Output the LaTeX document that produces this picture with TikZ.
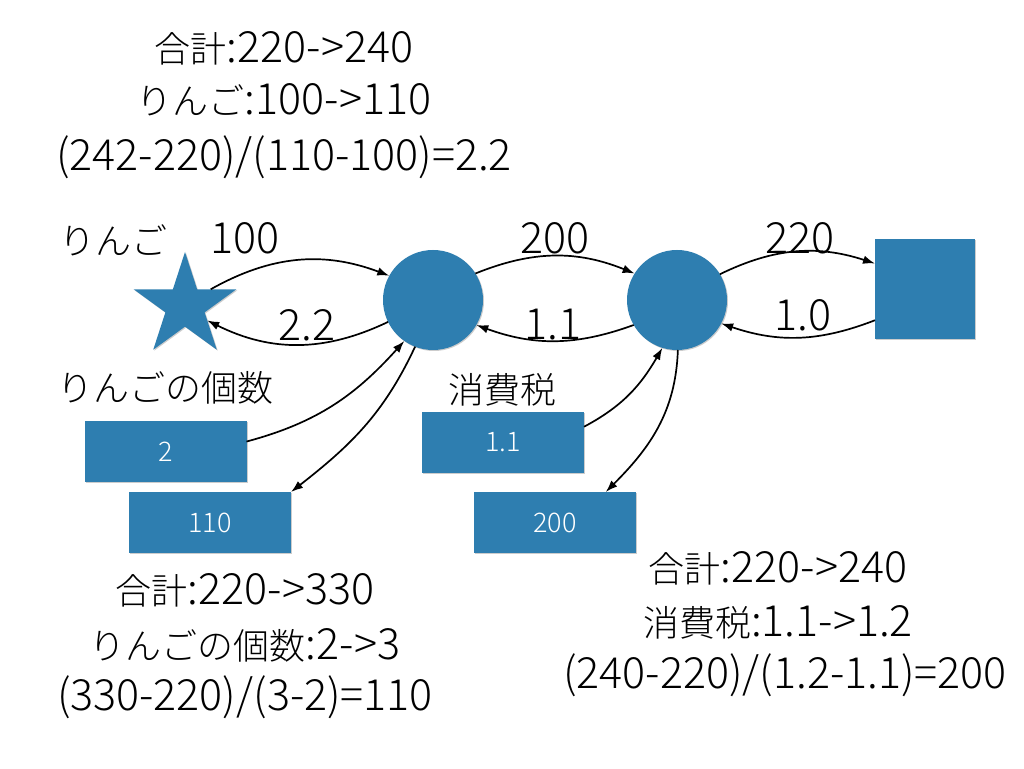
\documentclass[tikz,border=0pt]{standalone}
\usepackage{fontspec}
\setmainfont{Noto Sans CJK JP}[UprightFont=* Light]
\usetikzlibrary{shapes.geometric,arrows.meta,shadows}
\definecolor{nodeblue}{RGB}{46,126,176}
\newcommand{\jsz}[1]{{\fontsize{36}{40}\selectfont #1}}
\tikzset{
  x=1pt,y=1pt,
  shp/.style={fill=nodeblue,draw=none,inner sep=0pt,outer sep=0pt,
    drop shadow={shadow xshift=1pt,shadow yshift=-1pt,opacity=0.2,fill=black}},
  circ/.style={shp,circle,minimum size=100pt},
  valbox/.style={shp,rectangle,minimum width=162pt,minimum height=61pt,
    text=white,font=\fontsize{27}{30}\selectfont},
  lbl/.style={font=\fontsize{43}{48}\selectfont,inner sep=0pt},
  conn/.style={line width=1.7pt,-{Latex[length=12pt,width=8.5pt]}}
}
\begin{document}
\begin{tikzpicture}
\useasboundingbox[fill=white] (0,0) rectangle (1024,768);
% shapes
\node[shp,star,star points=5,star point ratio=2.618,minimum size=108pt] (st) at (185,462) {};
\node[circ] (c1) at (433,468) {};
\node[circ] (c2) at (677,468) {};
\node[shp,rectangle,minimum size=100pt] (sq) at (925,479) {};
\node[valbox] (b2) at (165.5,316.5) {2};
\node[valbox] (b110) at (210,245.5) {110};
\node[valbox] (b11) at (503,325.5) {1.1};
\node[valbox] (b200) at (555,245.5) {200};
% connectors
\draw[conn] (st.33) to[bend left=25] (c1.151);
\draw[conn] (c1.206) to[bend left=26] (st.-33);
\draw[conn] (c1.32) to[bend left=22] (c2.148);
\draw[conn] (c2.210) to[bend left=20] (c1.-30);
\draw[conn] (c2.31) to[bend left=22] (sq.153);
\draw[conn] (sq.212) to[bend left=20] (c2.-28);
\draw[conn] (b2.7) to[out=15,in=228] (c1.235);
\draw[conn] (c1.249) to[out=245,in=38] (b110.north east);
\draw[conn] (b11.11) to[out=28,in=240] (c2.253);
\draw[conn] (c2.271) to[out=268,in=45] (b200.31.4);
% labels
\node[lbl] (t1) at (284,720) {\jsz{合計}:220->240};
\node[lbl] (t2) at (284,668) {\jsz{りんご}:100->110};
\node[lbl] (t3) at (284,611) {(242-220)/(110-100)=2.2};
\node[lbl] (lapple) at (113,528) {\jsz{りんご}};
\node[lbl] (l100) at (245,530) {100};
\node[lbl] (l22) at (307,443) {2.2};
\node[lbl] (l200) at (555,530) {200};
\node[lbl] (l11) at (553,443) {1.1};
\node[lbl] (l220) at (800,530) {220};
\node[lbl] (l10) at (803,453) {1.0};
\node[lbl] (lcount) at (165,380) {\jsz{りんごの個数}};
\node[lbl] (ltax) at (502,378) {\jsz{消費税}};
\node[lbl] (u1) at (245,178) {\jsz{合計}:220->330};
\node[lbl] (u2) at (245,123) {\jsz{りんごの個数}:2->3};
\node[lbl] (u3) at (245,71) {(330-220)/(3-2)=110};
\node[lbl] (r1) at (778,200) {\jsz{合計}:220->240};
\node[lbl] (r2) at (778,146) {\jsz{消費税}:1.1->1.2};
\node[lbl] (r3) at (785,93) {(240-220)/(1.2-1.1)=200};
\end{tikzpicture}
\end{document}
